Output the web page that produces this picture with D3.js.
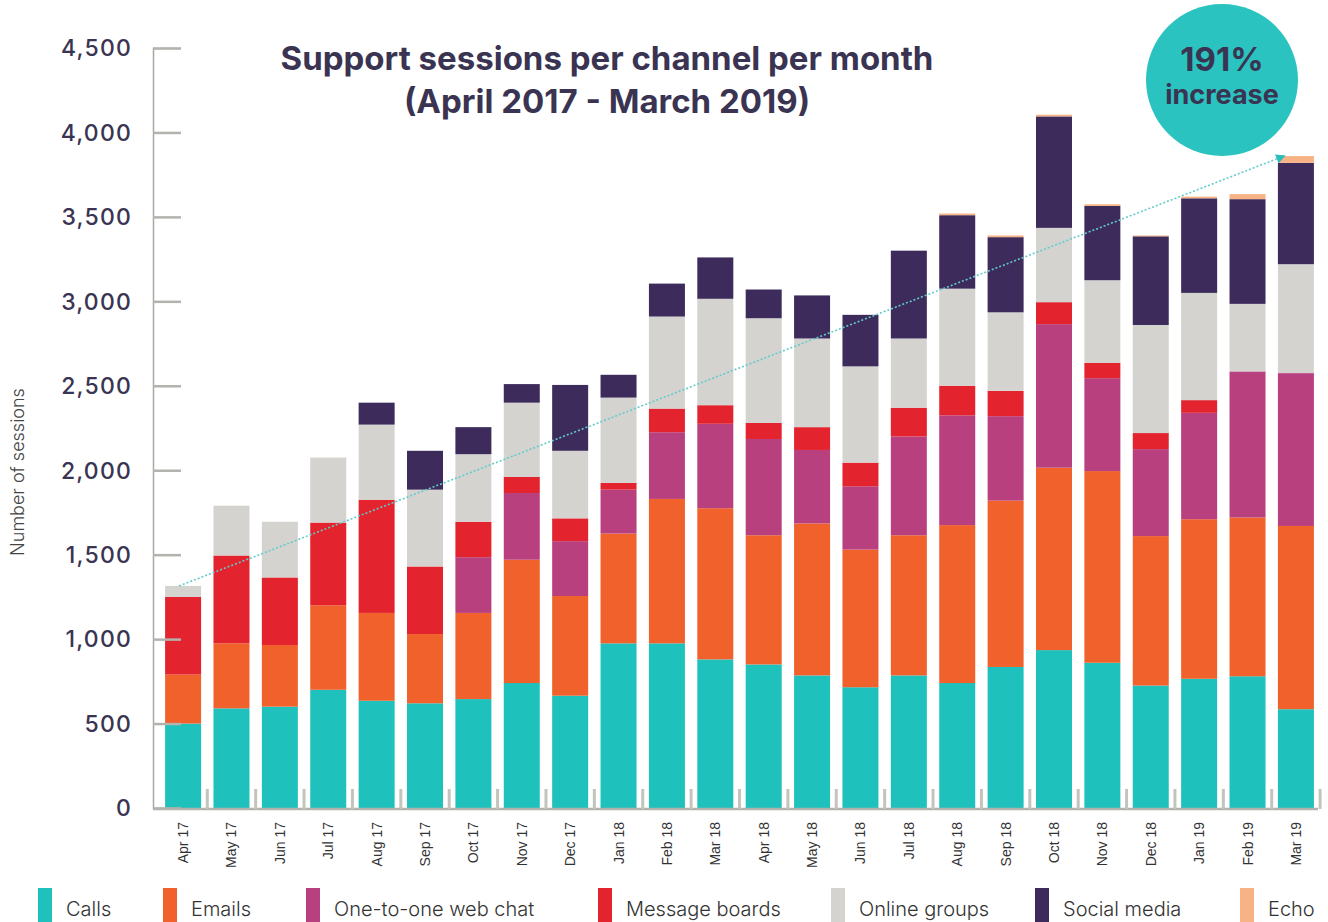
<!DOCTYPE html>
<html>
<head>
<meta charset="utf-8">
<script src="https://cdn.jsdelivr.net/npm/d3@7"></script>
<style>
  body { margin: 0; background: #fff; }
  svg { display: block; }
</style>
</head>
<body>
<div id="chart"></div>
<script>
var months = ['Apr 17', 'May 17', 'Jun 17', 'Jul 17', 'Aug 17', 'Sep 17', 'Oct 17', 'Nov 17', 'Dec 17',
  'Jan 18', 'Feb 18', 'Mar 18', 'Apr 18', 'May 18', 'Jun 18', 'Jul 18', 'Aug 18', 'Sep 18', 'Oct 18',
  'Nov 18', 'Dec 18', 'Jan 19', 'Feb 19', 'Mar 19'];

var calls         = [500, 590, 600, 700, 635, 620, 645, 740, 665, 975, 975, 880, 850, 785, 715, 785, 740, 835, 935, 860, 725, 765, 780, 585];
var emails        = [290, 385, 365, 500, 520, 410, 510, 730, 590, 650, 855, 895, 765, 900, 815, 830, 935, 985, 1080, 1135, 885, 945, 940, 1085];
var webChat       = [0, 0, 0, 0, 0, 0, 330, 395, 325, 260, 395, 500, 570, 435, 375, 585, 650, 500, 850, 550, 515, 630, 865, 905];
var messageBoards = [460, 520, 400, 490, 670, 400, 210, 95, 135, 40, 140, 110, 95, 135, 140, 170, 175, 150, 130, 90, 95, 75, 0, 0];
var onlineGroups  = [65, 295, 330, 385, 445, 455, 400, 440, 400, 505, 545, 630, 620, 525, 570, 410, 575, 465, 440, 490, 640, 635, 400, 645];
var socialMedia   = [0, 0, 0, 0, 130, 230, 160, 110, 390, 135, 195, 245, 170, 255, 305, 520, 435, 445, 660, 440, 525, 560, 620, 600];
var echo          = [0, 0, 0, 0, 0, 0, 0, 0, 0, 0, 0, 0, 0, 0, 0, 0, 10, 10, 10, 10, 5, 10, 30, 40];

var yTicks = [0, 500, 1000, 1500, 2000, 2500, 3000, 3500, 4000, 4500];

var series = [
  { key: 'calls', label: 'Calls', color: '#1fc1bd', values: calls },
  { key: 'emails', label: 'Emails', color: '#f1612b', values: emails },
  { key: 'webChat', label: 'One-to-one web chat', color: '#b9407f', values: webChat },
  { key: 'messageBoards', label: 'Message boards', color: '#e3232d', values: messageBoards },
  { key: 'onlineGroups', label: 'Online groups', color: '#d4d3d0', values: onlineGroups },
  { key: 'socialMedia', label: 'Social media', color: '#3c2b5b', values: socialMedia },
  { key: 'echo', label: 'Echo', color: '#f7b385', values: echo }
];

var width = 1328, height = 922;
var textColor = '#3a3452';

var rows = months.map(function (m, i) {
  var row = { month: m };
  series.forEach(function (s) { row[s.key] = s.values[i]; });
  return row;
});

var svg = d3.select('#chart').append('svg')
  .attr('width', width)
  .attr('height', height)
  .style('font-family', 'Inter, "Open Sans", sans-serif');

var x = d3.scaleBand()
  .domain(months)
  .range([153, 1326])
  .paddingInner(0.256)
  .paddingOuter(0.25);

var y = d3.scaleLinear()
  .domain([0, 4500])
  .range([808, 48]);

var stack = d3.stack().keys(series.map(function (s) { return s.key; }));
var layers = stack(rows);

// bars
svg.append('g').selectAll('g')
  .data(layers)
  .enter().append('g')
  .attr('fill', function (d, i) { return series[i].color; })
  .selectAll('rect')
  .data(function (d) { return d; })
  .enter().append('rect')
  .attr('x', function (d) { return x(d.data.month); })
  .attr('y', function (d) { return y(d[1]); })
  .attr('width', x.bandwidth())
  .attr('height', function (d) { return Math.max(0, y(d[0]) - y(d[1])); });

// y axis
var yAxis = svg.append('g').attr('transform', 'translate(153,0)')
  .call(d3.axisRight(y).tickValues(yTicks).tickSize(28).tickFormat(''));
yAxis.select('.domain').attr('stroke', '#a8a8a2').attr('stroke-width', 1.5);
yAxis.selectAll('.tick line').attr('stroke', '#b3b3ad').attr('stroke-width', 2.5);

svg.append('g').selectAll('text')
  .data(yTicks)
  .enter().append('text')
  .attr('x', 132)
  .attr('y', function (d) { return y(d); })
  .attr('dy', '0.36em')
  .attr('text-anchor', 'end')
  .attr('fill', textColor)
  .style('font-size', '23px')
  .style('font-weight', 500)
  .style('letter-spacing', '1.2px')
  .text(function (d) { return d3.format(',')(d); });

svg.append('text')
  .attr('transform', 'translate(24,472) rotate(-90)')
  .attr('text-anchor', 'middle')
  .attr('fill', '#444')
  .style('font-size', '18px')
  .style('font-weight', 300)
  .text('Number of sessions');

// x axis
svg.append('line')
  .attr('x1', 153).attr('x2', 1318)
  .attr('y1', 809).attr('y2', 809)
  .attr('stroke', '#b3b3ad').attr('stroke-width', 2.5);

var step = x.step();
svg.append('g').selectAll('rect')
  .data(months)
  .enter().append('rect')
  .attr('x', function (d) { return x(d) + x.bandwidth() + (step - x.bandwidth()) / 2 - 1.5; })
  .attr('y', 789)
  .attr('width', 3)
  .attr('height', 20)
  .attr('fill', '#c4c4be');

svg.append('g').selectAll('text')
  .data(months)
  .enter().append('text')
  .attr('transform', function (d) {
    return 'translate(' + (x(d) + x.bandwidth() / 2 + 5) + ',822) rotate(-90)';
  })
  .attr('text-anchor', 'end')
  .attr('fill', '#333')
  .style('font-family', '"Liberation Sans", Arial, sans-serif')
  .style('font-size', '14px')
  .text(function (d) { return d; });

// trend line from first to last total
var totals = rows.map(function (r, i) {
  return d3.sum(series, function (s) { return s.values[i]; });
});
var first = 0, last = months.length - 1;
var x1 = x(months[first]) + x.bandwidth() / 2 - 4, y1 = y(totals[first]);
var x2 = x(months[last]) + 6, y2 = y(totals[last]);

svg.append('defs').append('marker')
  .attr('id', 'arrow')
  .attr('viewBox', '0 0 10 10')
  .attr('refX', 8).attr('refY', 5)
  .attr('markerWidth', 6).attr('markerHeight', 6)
  .attr('orient', 'auto')
  .append('path')
  .attr('d', 'M0,0L10,5L0,10Z')
  .attr('fill', '#2bbdbb');

svg.append('line')
  .attr('x1', x1).attr('y1', y1)
  .attr('x2', x2).attr('y2', y2)
  .attr('stroke', '#62cccb')
  .attr('stroke-width', 1.6)
  .attr('stroke-dasharray', '2,2')
  .attr('marker-end', 'url(#arrow)');

// title
svg.append('text')
  .attr('x', 607).attr('y', 70)
  .attr('text-anchor', 'middle')
  .attr('fill', textColor)
  .style('font-size', '33px')
  .style('font-weight', 700)
  .text('Support sessions per channel per month');

svg.append('text')
  .attr('x', 607).attr('y', 113)
  .attr('text-anchor', 'middle')
  .attr('fill', textColor)
  .style('font-size', '33px')
  .style('font-weight', 700)
  .text('(April 2017 - March 2019)');

// increase badge
svg.append('circle')
  .attr('cx', 1222).attr('cy', 80).attr('r', 76)
  .attr('fill', '#2bc3bf');

svg.append('text')
  .attr('x', 1222).attr('y', 71)
  .attr('text-anchor', 'middle')
  .attr('fill', textColor)
  .style('font-size', '33px')
  .style('font-weight', 700)
  .text('191%');

svg.append('text')
  .attr('x', 1222).attr('y', 104)
  .attr('text-anchor', 'middle')
  .attr('fill', textColor)
  .style('font-size', '27px')
  .style('font-weight', 700)
  .text('increase');

// legend
var legendX = [38, 163, 306, 598, 831, 1035, 1240];
var legend = svg.append('g').selectAll('g')
  .data(series)
  .enter().append('g')
  .attr('transform', function (d, i) { return 'translate(' + legendX[i] + ',888)'; });

legend.append('rect')
  .attr('width', 14)
  .attr('height', 36)
  .attr('fill', function (d) { return d.color; });

legend.append('text')
  .attr('x', 28)
  .attr('y', 28)
  .attr('fill', '#333')
  .style('font-size', '20px')
  .style('font-weight', 300)
  .text(function (d) { return d.label; });
</script>
</body>
</html>
